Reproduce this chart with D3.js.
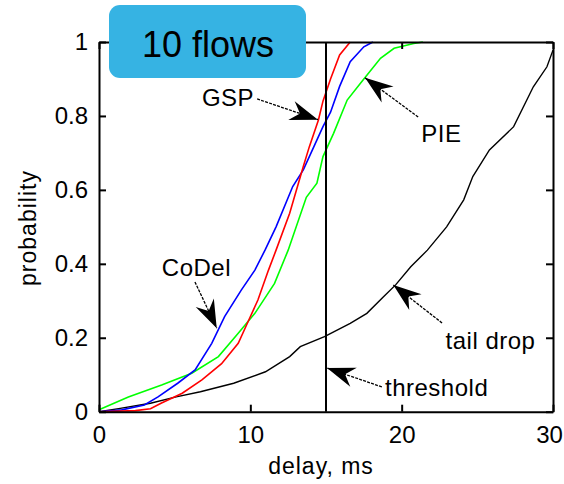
<!DOCTYPE html>
<html>
<head>
<meta charset="utf-8">
<script src="https://cdn.jsdelivr.net/npm/d3@7"></script>
<style>
  html, body { margin: 0; padding: 0; background: #fff; }
  svg { display: block; }
  text { font-family: "Liberation Sans", Arial, sans-serif; fill: #000; }
</style>
</head>
<body>
<svg id="chart" width="564" height="484"></svg>
<script>
// ---- data (delay in ms, cumulative probability) ----
const pieDelay   = [0, 1.94, 4.14, 6.13, 7.89, 9.2, 10.3, 11.6, 12.5, 13.7, 14.4, 14.8, 15.5, 16.4, 17.5, 18.6, 19.5, 20.8, 21.4];
const pieProb    = [0.005, 0.04, 0.072, 0.104, 0.149, 0.212, 0.266, 0.347, 0.437, 0.58, 0.618, 0.69, 0.753, 0.843, 0.90, 0.956, 0.983, 0.996, 1.0];

const gspDelay   = [0, 2.4, 3.4, 4.1, 5.5, 6.8, 8.1, 9.2, 9.9, 10.5, 11.2, 11.7, 12.6, 13.5, 13.9, 14.5, 14.8, 15.3, 15.9, 16.6];
const gspProb    = [0, 0.003, 0.008, 0.023, 0.05, 0.086, 0.13, 0.185, 0.248, 0.302, 0.383, 0.437, 0.537, 0.663, 0.717, 0.789, 0.84, 0.90, 0.965, 1.0];

const codelDelay = [0, 1.5, 3.0, 3.9, 5.2, 6.35, 7.45, 8.3, 9.4, 10.3, 10.97, 11.7, 12.8, 13.5, 14.2, 14.8, 15.3, 15.9, 16.6, 17.5, 18.1];
const codelProb  = [0, 0.005, 0.018, 0.04, 0.077, 0.113, 0.185, 0.257, 0.329, 0.383, 0.437, 0.50, 0.609, 0.654, 0.717, 0.771, 0.81, 0.88, 0.947, 0.987, 1.0];

const tailDelay  = [0, 1.4, 3.4, 5.1, 6.7, 8.9, 11.0, 12.6, 13.3, 14.9, 16.6, 17.7, 18.8, 19.6, 20.6, 21.7, 22.97, 24.1, 24.7, 25.8, 27.4, 28.7, 29.6, 30];
const tailProb   = [0, 0.009, 0.023, 0.04, 0.054, 0.077, 0.108, 0.149, 0.176, 0.203, 0.239, 0.266, 0.311, 0.343, 0.392, 0.437, 0.50, 0.573, 0.636, 0.708, 0.771, 0.879, 0.933, 0.978];

const thresholdDelay = 15;

const xTicks = [0, 10, 20, 30];
const yTicks = [0, 0.2, 0.4, 0.6, 0.8, 1];
const yTickLabels = ["0", "0.2", "0.4", "0.6", "0.8", "1"];

const titleText = "10 flows";
const xLabel = "delay, ms";
const yLabel = "probability";

// annotations: label, text anchor point (delay, prob), arrow start (delay, prob), arrow tip (delay, prob)
const annLabels = ["GSP", "PIE", "CoDel", "tail drop", "threshold"];
const annTextPos = [[6.8, 0.827], [21.3, 0.73], [4.15, 0.367], [22.9, 0.169], [18.9, 0.0415]];
const annFrom = [[10.45, 0.846], [21.09, 0.797], [6.34, 0.351], [22.67, 0.24], [18.69, 0.067]];
const annTo   = [[14.47, 0.79], [17.58, 0.903], [7.78, 0.226], [19.45, 0.343], [15.07, 0.118]];

// ---- chart ----
const svg = d3.select("#chart");
svg.append("rect").attr("width", 564).attr("height", 484).attr("fill", "#fff");

const x = d3.scaleLinear().domain([0, 30]).range([99, 553]);
const y = d3.scaleLinear().domain([0, 1]).range([411.7, 42]);

const line = d3.line().x(d => x(d[0])).y(d => y(d[1]));
const series = [
  { d: tailDelay,  p: tailProb,  c: "#000000", w: 1.4 },
  { d: pieDelay,   p: pieProb,   c: "#00ff00", w: 1.6 },
  { d: codelDelay, p: codelProb, c: "#0000ff", w: 1.6 },
  { d: gspDelay,   p: gspProb,   c: "#ff0000", w: 1.6 }
];
series.forEach(s => {
  svg.append("path")
    .datum(s.d.map((v, i) => [v, s.p[i]]))
    .attr("d", line)
    .attr("fill", "none")
    .attr("stroke", s.c)
    .attr("stroke-width", s.w)
    .attr("stroke-linejoin", "miter");
});

// threshold line
svg.append("line")
  .attr("x1", x(thresholdDelay)).attr("x2", x(thresholdDelay))
  .attr("y1", y(1)).attr("y2", y(0))
  .attr("stroke", "#000").attr("stroke-width", 2);

// axes
const tickLen = 7;
function styleAxis(g) {
  g.selectAll(".domain").attr("stroke", "#000").attr("stroke-width", 2);
  g.selectAll(".tick line").attr("stroke", "#000").attr("stroke-width", 2);
  g.selectAll("text").attr("font-size", 24).attr("font-family", "'Liberation Sans', Arial, sans-serif").attr("fill", "#000");
}
const xAxisB = d3.axisBottom(x).tickValues(xTicks).tickSizeInner(-tickLen).tickSizeOuter(0).tickPadding(14).tickFormat(d3.format("d"));
const xAxisT = d3.axisTop(x).tickValues(xTicks).tickSizeInner(-tickLen).tickSizeOuter(0).tickFormat("");
const yAxisL = d3.axisLeft(y).tickValues(yTicks).tickSizeInner(-tickLen).tickSizeOuter(0).tickPadding(11).tickFormat((d, i) => yTickLabels[i]);
const yAxisR = d3.axisRight(y).tickValues(yTicks).tickSizeInner(-tickLen).tickSizeOuter(0).tickFormat("");

const gxb = svg.append("g").attr("transform", `translate(0,${y(0)})`).call(xAxisB).call(styleAxis);
// keep the last tick label inside the window
gxb.selectAll(".tick text").filter(d => d === 30).attr("dx", -4);
svg.append("g").attr("transform", `translate(0,${y(1)})`).call(xAxisT).call(styleAxis);
svg.append("g").attr("transform", `translate(${x(0)},0)`).call(yAxisL).call(styleAxis);
svg.append("g").attr("transform", `translate(${x(30)},0)`).call(yAxisR).call(styleAxis);

// axis labels
svg.append("text")
  .attr("x", 321).attr("y", 474)
  .attr("text-anchor", "middle")
  .attr("font-size", 23).attr("letter-spacing", 1)
  .text(xLabel);
svg.append("text")
  .attr("transform", "translate(36,228) rotate(-90)")
  .attr("text-anchor", "middle")
  .attr("font-size", 23).attr("letter-spacing", 1)
  .text(yLabel);

// annotations
function arrowHead(x1, y1, x2, y2) {
  const a = Math.atan2(y2 - y1, x2 - x1);
  const L = 28, W = 10, N = 19;
  const pts = [[0, 0], [-L, -W], [-N, 0], [-L, W]].map(([u, v]) => [
    x2 + u * Math.cos(a) - v * Math.sin(a),
    y2 + u * Math.sin(a) + v * Math.cos(a)
  ]);
  return "M" + pts.map(p => p.join(",")).join("L") + "Z";
}
annLabels.forEach((lab, i) => {
  const [fx, fy] = [x(annFrom[i][0]), y(annFrom[i][1])];
  const [tx, ty] = [x(annTo[i][0]), y(annTo[i][1])];
  svg.append("line")
    .attr("x1", fx).attr("y1", fy).attr("x2", tx).attr("y2", ty)
    .attr("stroke", "#000").attr("stroke-width", 1.3)
    .attr("stroke-dasharray", "3,1.2");
  svg.append("path").attr("d", arrowHead(fx, fy, tx, ty)).attr("fill", "#000");
  svg.append("text")
    .attr("x", x(annTextPos[i][0])).attr("y", y(annTextPos[i][1]))
    .attr("font-size", 24).attr("letter-spacing", 0.5)
    .text(lab);
});

// title box
svg.append("rect")
  .attr("x", 109).attr("y", 5).attr("width", 197).attr("height", 73)
  .attr("rx", 11).attr("ry", 11)
  .attr("fill", "#36b3e3");
svg.append("text")
  .attr("x", 208).attr("y", 57)
  .attr("text-anchor", "middle")
  .attr("font-size", 36)
  .text(titleText);
</script>
</body>
</html>
